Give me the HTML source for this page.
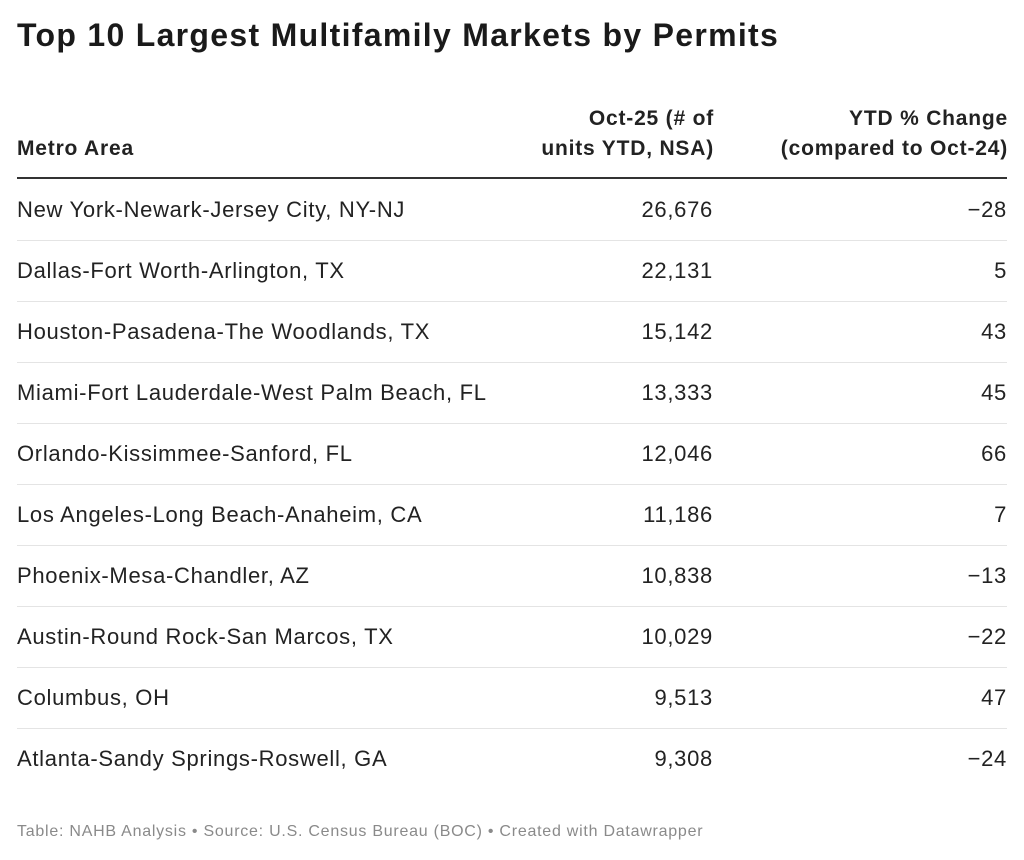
<!DOCTYPE html>
<html><head><meta charset="utf-8">
<style>
body{margin:0;width:1024px;height:860px;background:#fff;font-family:"Liberation Sans",Arial,sans-serif;color:#1d1d1d;position:relative;overflow:hidden}
.t{position:absolute;white-space:nowrap}
#title{left:17px;top:17px;font-size:32px;font-weight:bold;color:#1a1a1a;letter-spacing:1.3px}
.h{font-size:21px;font-weight:bold;line-height:30px;color:#222;letter-spacing:0.8px}
.row{position:absolute;left:17px;width:990px;height:61px;border-bottom:1px solid #e4e4e4}
.row div{position:absolute;top:1px;line-height:60px;font-size:22px;white-space:nowrap;color:#222;letter-spacing:0.7px}
.c1{left:0}
.c2{right:294px;text-align:right}
.c3{right:0;text-align:right}
#hline{position:absolute;left:17px;top:177px;width:990px;height:2px;background:#333}
#foot{left:17px;top:823px;font-size:16px;color:#8a8a8a;letter-spacing:0.75px}
</style></head><body>
<div id="title" class="t">Top 10 Largest Multifamily Markets by Permits</div>
<div class="t h" style="left:17px;top:134px">Metro Area</div>
<div class="t h" style="right:310px;top:104px;text-align:right">Oct-25 (# of<br>units YTD, NSA)</div>
<div class="t h" style="right:16px;top:104px;text-align:right">YTD % Change<br>(compared to Oct-24)</div>
<div id="hline"></div>
<div id="rows"></div>
<div id="foot" class="t">Table: NAHB Analysis • Source: U.S. Census Bureau (BOC) • Created with Datawrapper</div>
<script>
const metros=["New York-Newark-Jersey City, NY-NJ","Dallas-Fort Worth-Arlington, TX","Houston-Pasadena-The Woodlands, TX","Miami-Fort Lauderdale-West Palm Beach, FL","Orlando-Kissimmee-Sanford, FL","Los Angeles-Long Beach-Anaheim, CA","Phoenix-Mesa-Chandler, AZ","Austin-Round Rock-San Marcos, TX","Columbus, OH","Atlanta-Sandy Springs-Roswell, GA"];
const permits=[26676,22131,15142,13333,12046,11186,10838,10029,9513,9308];
const changes=[-28,5,43,45,66,7,-13,-22,47,-24];
const c=document.getElementById('rows');
metros.forEach((m,i)=>{
  const r=document.createElement('div');
  r.className='row';
  r.style.top=(179+61*i)+'px';
  if(i===metros.length-1)r.style.borderBottom='none';
  
  
  const a=document.createElement('div');a.className='c1';a.textContent=m;
  
  
  const b=document.createElement('div');b.className='c2';b.textContent=permits[i].toLocaleString('en-US');
  
  
  const d=document.createElement('div');d.className='c3';d.textContent=(changes[i]<0?'\u2212':'')+Math.abs(changes[i]);
  
  
  r.append(a,b,d);c.appendChild(r);
});
</script>
</body></html>
